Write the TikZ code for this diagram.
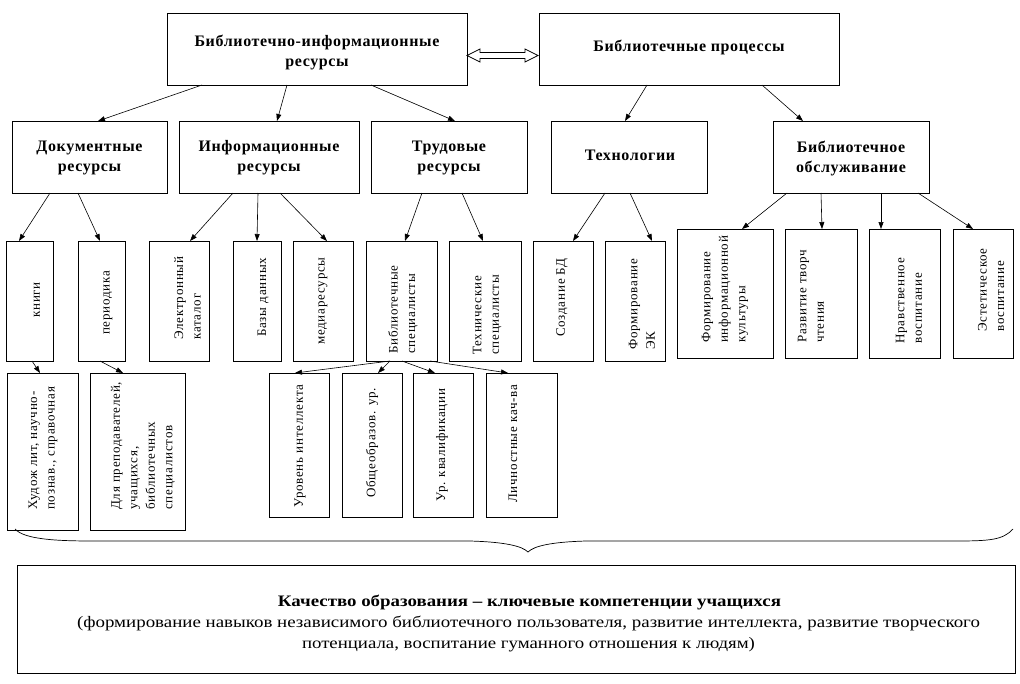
\documentclass[tikz,border=0pt]{standalone}
\usepackage{fontspec}
\setmainfont{Liberation Serif}
\newfontfamily\hdfont{Liberation Serif}[LetterSpace=4]
\newfontfamily\rtfont{Liberation Serif}[LetterSpace=6]
\usetikzlibrary{arrows.meta,calc}
\tikzset{
  bx/.style={draw, line width=0.8pt, rectangle, inner sep=0pt, outer sep=0pt},
  arr/.style={-{Triangle[length=7pt,width=5pt]}, line width=0.6pt},
  hd/.style={align=center, font=\hdfont\bfseries\fontsize{16}{20}\selectfont, inner sep=0pt},
  rt/.style={rotate=90, anchor=west, align=left, font=\rtfont\fontsize{13}{17.5}\selectfont, inner sep=0pt},
  bt/.style={inner sep=0pt, font=\fontsize{16}{20}\selectfont}
}
\begin{document}
\begin{tikzpicture}[x=1pt,y=-1pt]
\useasboundingbox (0,0) rectangle (1020,683);
% top level
\node[bx, minimum width=300pt, minimum height=72pt] (bir) at (317,49) {};
\node[bx, minimum width=300pt, minimum height=72pt] (bp) at (689,49) {};
\node[hd] at (317,52) {Библиотечно-информационные\\ресурсы};
\node[hd] at (689,47) {Библиотечные процессы};
% double arrow
\coordinate (da1) at (467,55.5);
\coordinate (da2) at (538,55.5);
\draw[line width=0.7pt, fill=white] (da1) -- ++(13,-6.5) -- ++(0,3.5) -- ++(45,0) -- ++(0,-3.5) -- (da2) -- ++(-13,6.5) -- ++(0,-3.5) -- ++(-45,0) -- ++(0,3.5) -- cycle;
% level 2
\node[bx, minimum width=155pt, minimum height=72pt] (doc) at (89.5,157) {};
\node[bx, minimum width=180pt, minimum height=72pt] (inf) at (269,157) {};
\node[bx, minimum width=156pt, minimum height=72pt] (trud) at (449,157) {};
\node[bx, minimum width=156pt, minimum height=72pt] (tech) at (629,157) {};
\node[bx, minimum width=156pt, minimum height=72pt] (serv) at (851,157) {};
\node[hd] at (89.5,158) {Документные\\ресурсы};
\node[hd] at (269,158) {Информационные\\ресурсы};
\node[hd] at (449,158) {Трудовые\\ресурсы};
\node[hd] at (630,155) {Технологии};
\node[hd] at (851,158) {Библиотечное\\обслуживание};
% level 3
\node[bx, minimum width=47pt, minimum height=120pt] (books) at (29.5,301) {};
\node[bx, minimum width=47pt, minimum height=120pt] (period) at (101.5,301) {};
\node[bx, minimum width=60pt, minimum height=120pt] (ecat) at (179,301) {};
\node[bx, minimum width=48pt, minimum height=120pt] (db) at (257,301) {};
\node[bx, minimum width=60pt, minimum height=120pt] (media) at (323,301) {};
\node[bx, minimum width=71pt, minimum height=120pt] (bspec) at (401.5,301) {};
\node[bx, minimum width=72pt, minimum height=120pt] (tspec) at (485,301) {};
\node[bx, minimum width=60pt, minimum height=120pt] (cdb) at (563,301) {};
\node[bx, minimum width=60pt, minimum height=120pt] (fek) at (635,301) {};
\node[bx, minimum width=96pt, minimum height=129pt] (fik) at (725,293.5) {};
\node[bx, minimum width=72pt, minimum height=129pt] (rtch) at (821,293.5) {};
\node[bx, minimum width=71pt, minimum height=129pt] (nv) at (904.5,293.5) {};
\node[bx, minimum width=60pt, minimum height=129pt] (ev) at (983,293.5) {};
\node[rt] at (37,318) {книги};
\node[rt] at (108,335) {периодика};
\node[rt] at (187.5,340) {Электронный\\каталог};
\node[rt] at (263,337) {Базы данных};
\node[rt] at (323,345) {медиаресурсы};
\node[rt] at (403,354) {Библиотечные\\специалисты};
\node[rt] at (487,355) {Технические\\специалисты};
\node[rt] at (562,337) {Создание БД};
\node[rt] at (642,350) {Формирование\\ЭК};
\node[rt] at (725,343) {Формирование\\информационной\\культуры};
\node[rt] at (811,343) {Развитие творч\\чтения};
\node[rt] at (909,344) {Нравственное\\воспитание};
\node[rt] at (991,332) {Эстетическое\\воспитание};
% level 4
\node[bx, minimum width=71pt, minimum height=157pt] (hud) at (42.5,451.5) {};
\node[bx, minimum width=95pt, minimum height=157pt] (dlya) at (137.5,451.5) {};
\node[bx, minimum width=60pt, minimum height=144pt] (ur) at (299,445) {};
\node[bx, minimum width=60pt, minimum height=144pt] (ob) at (372,445) {};
\node[bx, minimum width=60pt, minimum height=144pt] (kv) at (443,445) {};
\node[bx, minimum width=71pt, minimum height=144pt] (lk) at (521.5,445) {};
\node[rt] at (43,510) {Худож лит, научно-\\познав., справочная};
\node[rt] at (143,510) {Для преподавателей,\\учащихся,\\библиотечных\\специалистов};
\node[rt] at (300,508) {Уровень интеллекта};
\node[rt] at (372,498) {Общеобразов. ур.};
\node[rt] at (442,502) {Ур. квалификации};
\node[rt] at (513,503) {Личностные кач-ва};
% arrows level 1
\draw[arr] ([xshift=-115pt]bir.south) -- ([xshift=8.5pt]doc.north);
\draw[arr] ([xshift=-30pt]bir.south) -- ([xshift=8pt]inf.north);
\draw[arr] ([xshift=54pt]bir.south) -- ([xshift=6pt]trud.north);
\draw[arr] ([xshift=-42pt]bp.south) -- ([xshift=-4pt]tech.north);
\draw[arr] ([xshift=73pt]bp.south) -- ([xshift=-48pt]serv.north);
% arrows level 2
\draw[arr] ([xshift=-39.5pt]doc.south) -- ([xshift=-10.5pt]books.north);
\draw[arr] ([xshift=-11.5pt]doc.south) -- ([xshift=-1.5pt]period.north);
\draw[arr] ([xshift=-36pt]inf.south) -- ([xshift=11pt]ecat.north);
\draw[arr] ([xshift=-11pt]inf.south) -- (db.north);
\draw[arr] ([xshift=11pt]inf.south) -- ([xshift=4pt]media.north);
\draw[arr] ([xshift=-27pt]trud.south) -- ([xshift=3.5pt]bspec.north);
\draw[arr] ([xshift=13pt]trud.south) -- ([xshift=-2pt]tspec.north);
\draw[arr] ([xshift=-24pt]tech.south) -- ([xshift=10pt]cdb.north);
\draw[arr] ([xshift=1pt]tech.south) -- ([xshift=17pt]fek.north);
\draw[arr] ([xshift=-64pt]serv.south) -- ([xshift=17pt]fik.north);
\draw[arr] ([xshift=-30pt]serv.south) -- ([xshift=1pt]rtch.north);
\draw[arr] ([xshift=30pt]serv.south) -- ([xshift=-23.5pt]nv.north);
\draw[arr] ([xshift=67pt]serv.south) -- ([xshift=-10pt]ev.north);
% arrows level 3
\draw[arr] ([xshift=2.5pt]books.south) -- ([xshift=-2.5pt]hud.north);
\draw[arr] ([xshift=-1.5pt]period.south) -- ([xshift=-14.5pt]dlya.north);
\draw[arr] ([xshift=-11.5pt]bspec.south) -- ([xshift=-4pt]ur.north);
\draw[arr] ([xshift=-11.5pt]bspec.south) -- ([xshift=6pt]ob.north);
\draw[arr] ([xshift=0.5pt]bspec.south) -- ([xshift=-8pt]kv.north);
\draw[arr] ([xshift=28.5pt]bspec.south) -- ([xshift=-13.5pt]lk.north);
% brace
\coordinate (brL) at (15,529);
\coordinate (brT) at (528,552);
\coordinate (brR) at (1013,529);
\draw[line width=0.7pt] (brL) .. controls (25,540) and (60,541) .. (95,541) -- (470,541) .. controls (505,542) and (522,546) .. (brT)
  .. controls (534,546) and (551,542) .. (586,541) -- (955,541) .. controls (990,541) and (1003,540) .. (brR);
% bottom box
\node[bx, minimum width=998pt, minimum height=108pt] (res) at (516,619) {};
\node[bt, font=\bfseries\fontsize{16}{20}\selectfont] at (529.5,602) {\resizebox{503pt}{\height}{Качество образования – ключевые компетенции учащихся}};
\node[bt] at (528.5,623) {\resizebox{903pt}{\height}{(формирование навыков независимого библиотечного пользователя, развитие интеллекта, развитие творческого}};
\node[bt] at (528.5,645) {\resizebox{453pt}{\height}{потенциала, воспитание гуманного отношения к людям)}};
\end{tikzpicture}
\end{document}
